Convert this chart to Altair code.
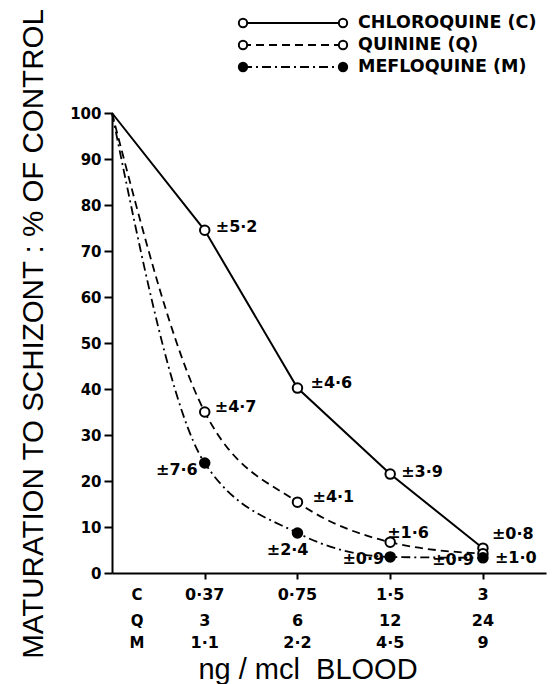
import altair as alt
import pandas as pd

# ---------------- data ----------------
series_names = ["CHLOROQUINE (C)", "QUININE (Q)", "MEFLOQUINE (M)"]
series_keys = ["C", "Q", "M"]
dose_index = [0, 1, 2, 3, 4]
chloroquine = [100, 74.5, 40.2, 21.5, 5.4]
quinine = [100, 35.0, 15.4, 6.7, 4.2]
mefloquine = [100, 23.9, 8.7, 3.5, 3.3]

err_C = ["±5·2", "±4·6", "±3·9", "±0·8"]
err_Q = ["±4·7", "±4·1", "±1·6", "±0·9"]
err_M = ["±7·6", "±2·4", "±0·9", "±1·0"]

dose_C = ["0·37", "0·75", "1·5", "3"]
dose_Q = ["3", "6", "12", "24"]
dose_M = ["1·1", "2·2", "4·5", "9"]
row_labels = ["C", "Q", "M"]

y_title = "MATURATION TO SCHIZONT : % OF CONTROL"
x_title = "ng / mcl\u00a0 BLOOD"

# ---------------- tables ----------------
vals = {"C": chloroquine, "Q": quinine, "M": mefloquine}
errs = {"C": err_C, "Q": err_Q, "M": err_M}
rows = []
for k in series_keys:
    for i, v in zip(dose_index, vals[k]):
        rows.append({"key": k, "idx": i, "value": v})
df = pd.DataFrame(rows)

err_rows = []
for k in series_keys:
    for j, lab in enumerate(errs[k]):
        err_rows.append({"key": k, "idx": dose_index[j + 1], "value": vals[k][j + 1], "label": lab})
err_df = pd.DataFrame(err_rows)

# layout of error labels (align, dx, dy), same order as err_df
err_layout = [
    ("left", 11, -3), ("left", 13, -5), ("left", 11, -2), ("left", 9, -14),
    ("left", 10, -5), ("left", 15, -5), ("left", -3, -9), ("right", -9, 6),
    ("right", -7, 7), ("right", 11, 17), ("right", -6, 2), ("left", 12, 0),
]

tick_rows = []
for r, labs in zip(row_labels, [dose_C, dose_Q, dose_M]):
    for i, lab in zip(dose_index[1:], labs):
        tick_rows.append({"row": r, "idx": i, "label": lab})
tick_df = pd.DataFrame(tick_rows)

legend_df = pd.DataFrame({"key": series_keys, "name": series_names, "order": [0, 1, 2]})

# ---------------- scales ----------------
W, H = 434, 460
xs = alt.Scale(domain=[0, 4.68], nice=False, zero=False)
ys = alt.Scale(domain=[0, 100], nice=False)
dash_scale = alt.Scale(domain=series_keys, range=[[1, 0], [8, 5], [9, 4, 2, 4]])
fill_scale = alt.Scale(domain=series_keys, range=["white", "white", "black"])

FONT_B = "DejaVu Sans"

base = alt.Chart(df)

x_enc = alt.X("idx:Q", scale=xs, axis=alt.Axis(
    values=[1, 2, 3, 4], labels=False, title=None, tickSize=6, tickWidth=2,
    domainWidth=2, domainColor="black", tickColor="black", grid=False))
y_enc = alt.Y("value:Q", scale=ys, axis=alt.Axis(
    values=list(range(0, 101, 10)), title=None, tickSize=8, tickWidth=2,
    domainWidth=2, domainColor="black", tickColor="black", grid=False,
    labelFont=FONT_B, labelFontWeight="bold", labelFontSize=15,
    labelColor="black", labelPadding=3))

line_c = base.transform_filter(alt.datum.key == "C").mark_line(
    color="black", strokeWidth=2).encode(x=x_enc, y=y_enc)
line_qm = base.transform_filter(alt.datum.key != "C").mark_line(
    color="black", strokeWidth=1.8, interpolate="monotone").encode(
    x="idx:Q", y="value:Q",
    strokeDash=alt.StrokeDash("key:N", scale=dash_scale, legend=None),
    detail="key:N")

pts = base.transform_filter(alt.datum.idx > 0).mark_point(
    shape="circle", size=90, stroke="black", strokeWidth=2, opacity=1,
    filled=False).encode(
    x="idx:Q", y="value:Q",
    fill=alt.Fill("key:N", scale=fill_scale, legend=None))

layers = [line_c, line_qm, pts]

# error labels
for i, (al, dx, dy) in enumerate(err_layout):
    r = err_df.iloc[i]
    layers.append(
        alt.Chart(err_df).transform_filter(
            (alt.datum.key == r["key"]) & (alt.datum.idx == int(r["idx"]))
        ).mark_text(align=al, baseline="middle", dx=dx, dy=dy, font=FONT_B,
                    fontWeight="bold", fontSize=16, color="black").encode(
            x="idx:Q", y="value:Q", text="label:N"))

# dose tick label rows
row_y = {"C": 482, "Q": 508, "M": 530}
for r in row_labels:
    layers.append(
        alt.Chart(tick_df).transform_filter(alt.datum.row == r).mark_text(
            align="center", baseline="middle", font=FONT_B, fontWeight="bold",
            fontSize=16, color="black").encode(
            x="idx:Q", y=alt.value(row_y[r]), text="label:N"))
    layers.append(
        alt.Chart(pd.DataFrame({"t": [r]})).mark_text(
            align="center", baseline="middle", font=FONT_B, fontWeight="bold",
            fontSize=15, color="black").encode(
            x=alt.value(25), y=alt.value(row_y[r]), text="t:N"))

# axis titles
layers.append(alt.Chart(pd.DataFrame({"t": [y_title]})).mark_text(
    angle=270, align="center", baseline="middle", font="Liberation Sans",
    fontSize=29.5, color="black").encode(
    x=alt.value(-78), y=alt.value(221), text="t:N"))
layers.append(alt.Chart(pd.DataFrame({"t": [x_title]})).mark_text(
    align="center", baseline="middle", font="Liberation Sans",
    fontSize=29, color="black").encode(
    x=alt.value(196), y=alt.value(557), text="t:N"))

# legend
leg = alt.Chart(legend_df).transform_calculate(ypx="-90 + 22 * datum.order")
layers.append(leg.mark_rule(color="black", strokeWidth=2).encode(
    x=alt.value(131), x2=alt.value(231), y=alt.Y("ypx:Q", scale=None),
    strokeDash=alt.StrokeDash("key:N", scale=dash_scale, legend=None)))
for xv in (131, 231):
    layers.append(leg.mark_point(shape="circle", size=70, stroke="black",
                                 strokeWidth=2, opacity=1, filled=False).encode(
        x=alt.value(xv), y=alt.Y("ypx:Q", scale=None),
        fill=alt.Fill("key:N", scale=fill_scale, legend=None)))
layers.append(leg.mark_text(align="left", baseline="middle", font=FONT_B,
                            fontWeight="bold", fontSize=17.5, color="black").encode(
    x=alt.value(246), y=alt.Y("ypx:Q", scale=None), text="name:N"))

chart = alt.layer(*layers).properties(
    width=W, height=H,
    padding={"left": 112, "top": 113, "right": 9, "bottom": 111},
    autosize=alt.AutoSizeParams(type="none"),
    background="white",
).configure_view(stroke=None).resolve_scale(strokeDash="shared", fill="shared")

chart.save("out.html", embed_options={"renderer": "svg", "actions": False})
